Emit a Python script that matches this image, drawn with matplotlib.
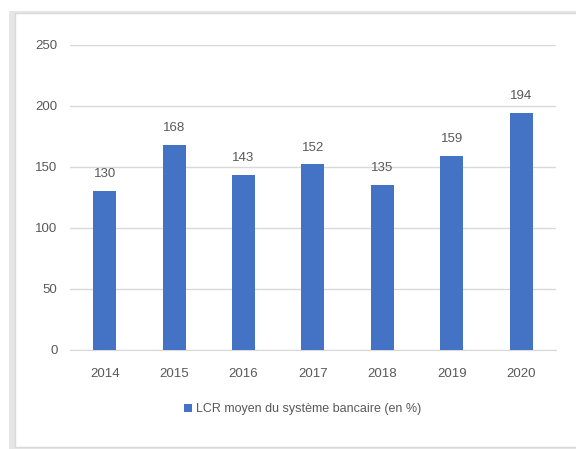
import matplotlib
matplotlib.use("Agg")
import matplotlib.pyplot as plt
from matplotlib.patches import Rectangle

annees = ["2014", "2015", "2016", "2017", "2018", "2019", "2020"]
lcr = [130, 168, 143, 152, 135, 159, 194]
serie = "LCR moyen du système bancaire (en %)"

plt.rcParams['font.family'] = ['Liberation Sans Narrow', 'Liberation Sans', 'DejaVu Sans']
gris = '#595959'

fig = plt.figure(figsize=(5.76, 4.49), dpi=100)

# cadre du graphique avec ombre
fig.patches.append(Rectangle((0.016, 0.0), 0.99, 0.976, transform=fig.transFigure,
                             facecolor='#e6e6e6', edgecolor='none', zorder=-2))
fig.patches.append(Rectangle((0.026, 0.004), 0.98, 0.966, transform=fig.transFigure,
                             facecolor='white', edgecolor='#d9d9d9', lw=1, zorder=-1))

ax = fig.add_axes([0.1215, 0.2205, 0.8435, 0.6795])
ax.set_zorder(2)
ax.set_facecolor('none')
x = range(len(annees))
barres = ax.bar(x, lcr, width=0.33, color='#4472C4', label=serie, zorder=3)
for xi, v in zip(x, lcr):
    ax.text(xi, v + 9, str(v), ha='center', va='bottom', fontsize=9.5, color=gris)

ax.set_xlim(-0.5, 6.5)
ax.set_ylim(0, 250)
ax.set_yticks(range(0, 251, 50))
ax.set_xticks(list(x))
ax.set_xticklabels(annees)
ax.yaxis.grid(True, color='#d9d9d9', lw=1, zorder=0)
ax.set_axisbelow(True)
for s in ['top', 'right', 'left']:
    ax.spines[s].set_visible(False)
ax.spines['bottom'].set_color('#d9d9d9')
ax.tick_params(axis='both', length=0, colors=gris, labelsize=9.5)
ax.tick_params(axis='y', pad=9)
ax.tick_params(axis='x', pad=13)

fig.legend(handles=[barres], labels=[serie], loc='center', bbox_to_anchor=(0.525, 0.088),
           frameon=False, fontsize=9, labelcolor=gris, handlelength=0.7,
           handleheight=0.7, handletextpad=0.3)

plt.savefig('out.png', dpi=100)
